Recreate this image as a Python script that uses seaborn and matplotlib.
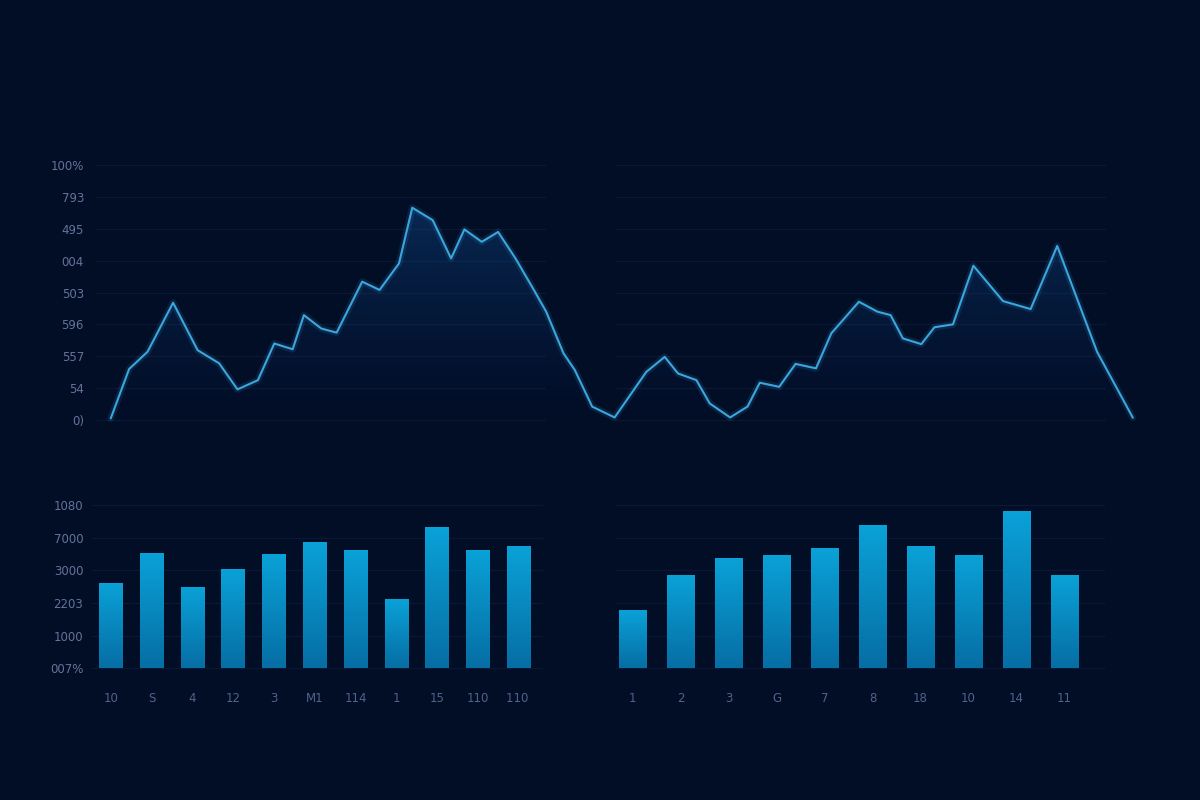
import numpy as np
import pandas as pd
import matplotlib
matplotlib.use("Agg")
import matplotlib.pyplot as plt
from matplotlib.colors import LinearSegmentedColormap
import seaborn as sns

# ---- data ----
line_x = [0, 1.8, 3.6, 6.1, 8.5, 10.6, 12.4, 14.4, 16.0, 17.8, 18.9, 20.6, 22.1,
          24.6, 26.3, 28.2, 29.5, 31.5, 33.3, 34.6, 36.3, 37.9, 39.6, 41.4, 42.6,
          44.3, 45.4, 47.1, 49.3, 52.4, 54.2, 55.5, 57.3, 58.6, 60.6, 62.3, 63.5,
          65.4, 67.0, 69.0, 70.5, 73.2, 75.0, 76.3, 77.5, 79.3, 80.6, 82.4, 84.4,
          87.3, 90.0, 92.6, 96.5, 100]
line_y = [0.05, 1.60, 2.14, 3.68, 2.19, 1.78, 0.96, 1.25, 2.40, 2.22, 3.29, 2.87, 2.74,
          4.34, 4.08, 4.91, 6.66, 6.27, 5.07, 5.98, 5.59, 5.90, 5.07, 4.08, 3.40,
          2.09, 1.57, 0.42, 0.08, 1.51, 1.98, 1.46, 1.25, 0.52, 0.08, 0.42, 1.17,
          1.04, 1.76, 1.62, 2.72, 3.71, 3.40, 3.29, 2.56, 2.38, 2.91, 3.00, 4.84,
          3.73, 3.48, 5.46, 2.14, 0.07]
line_ticklabels = ["0)", "54", "557", "596", "503", "004", "495", "793", "100%"]

left_labels = ["10", "S", "4", "12", "3", "M1", "114", "1", "15", "110", "110 "]
left_values = [2.62, 3.52, 2.48, 3.04, 3.49, 3.88, 3.62, 2.13, 4.34, 3.61, 3.76]
right_labels = ["1", "2", "3", "G", "7", "8", "18", "10", "14", "11"]
right_values = [1.79, 2.86, 3.39, 3.47, 3.68, 4.38, 3.75, 3.48, 4.83, 2.86]
bar_ticklabels = ["007%", "1000", "2203", "3000", "7000", "1080"]

# ---- style ----
BG = "#020d26"
GRID = "#0b1833"
LINE = "#3ba6de"
TICK_Y = "#65739a"
TICK_X = "#52628a"

sns.set_theme(style="dark")
plt.rcParams["font.family"] = ["DejaVu Sans"]
plt.rcParams["axes.facecolor"] = "none"
plt.rcParams["figure.facecolor"] = BG

W, H = 1200, 800
fig = plt.figure(figsize=(12, 8), dpi=100)


def px_axes(x0, x1, y_top, y_bot):
    return fig.add_axes([x0 / W, 1 - y_bot / H, (x1 - x0) / W, (y_bot - y_top) / H])


def clean(ax):
    for s in ax.spines.values():
        s.set_visible(False)
    ax.grid(False)
    ax.set_xlabel("")
    ax.set_ylabel("")


# ---- top line chart ----
ax = px_axes(95, 1140, 160, 425)
clean(ax)
ax.set_xlim(-1.54, 100.7)
ax.set_ylim(-0.157, 8.157)
for v in range(9):
    ax.axhline(v, xmin=0, xmax=0.4306, color=GRID, lw=1, zorder=0)
    ax.axhline(v, xmin=0.4976, xmax=0.9665, color=GRID, lw=1, zorder=0)

df_line = pd.DataFrame({"t": line_x, "v": line_y})
poly = ax.fill_between(line_x, line_y, 0, color="none", lw=0)
fill_cmap = LinearSegmentedColormap.from_list(
    "fill", [(0.04, 0.20, 0.40, 0.0), (0.06, 0.28, 0.52, 0.5)])
grad = np.linspace(0, 1, 256).reshape(-1, 1)
im = ax.imshow(grad, cmap=fill_cmap, aspect="auto", origin="lower",
               extent=[-1.54, 100.7, 0, 7.0], zorder=1)
im.set_clip_path(poly.get_paths()[0], transform=ax.transData)
sns.lineplot(data=df_line, x="t", y="v", ax=ax, color=LINE, lw=5, alpha=0.13, zorder=2)
sns.lineplot(data=df_line, x="t", y="v", ax=ax, color=LINE, lw=1.5, zorder=3)
clean(ax)
ax.set_xlim(-1.54, 100.7)
ax.set_ylim(-0.157, 8.157)
ax.set_xticks([])
ax.set_yticks(range(9))
ax.set_yticklabels(line_ticklabels)
ax.tick_params(axis="y", length=0, pad=8, labelsize=8.5, labelcolor=TICK_Y)

# ---- bar charts ----
bar_cmap = LinearSegmentedColormap.from_list("bar", ["#066ea4", "#0aa2d8"])


def bars(x0, x1, labels, values, xlim, show_y):
    axb = px_axes(x0, x1, 501.7, 670.1)
    d = pd.DataFrame({"label": labels, "value": values})
    sns.barplot(data=d, x="label", y="value", ax=axb, color="#0890c6", width=0.58,
                saturation=1, zorder=2)
    clean(axb)
    for v in range(6):
        axb.axhline(v, color=GRID, lw=1, zorder=0)
    for p in axb.patches:
        bx, by, bw, bh = p.get_x(), p.get_y(), p.get_width(), p.get_height()
        img = axb.imshow(grad, cmap=bar_cmap, aspect="auto", origin="lower",
                         extent=[bx, bx + bw, by, by + bh], zorder=3)
        img.set_clip_path(p)
        p.set_facecolor("none")
        p.set_edgecolor("none")
    axb.set_xlim(*xlim)
    axb.set_ylim(-0.05, 5.1)
    axb.tick_params(axis="x", length=0, pad=16, labelsize=8.5, labelcolor=TICK_X)
    if show_y:
        axb.set_yticks(range(6))
        axb.set_yticklabels(bar_ticklabels)
        axb.tick_params(axis="y", length=0, pad=6.5, labelsize=8.5, labelcolor=TICK_Y)
    else:
        axb.set_yticks([])
    return axb


bars(92.4, 543.3, left_labels, left_values, (-0.45, 10.6), True)
bars(615.2, 1104.8, right_labels, right_values, (-0.36, 9.84), False)

fig.savefig("out.png", dpi=100, facecolor=BG)
